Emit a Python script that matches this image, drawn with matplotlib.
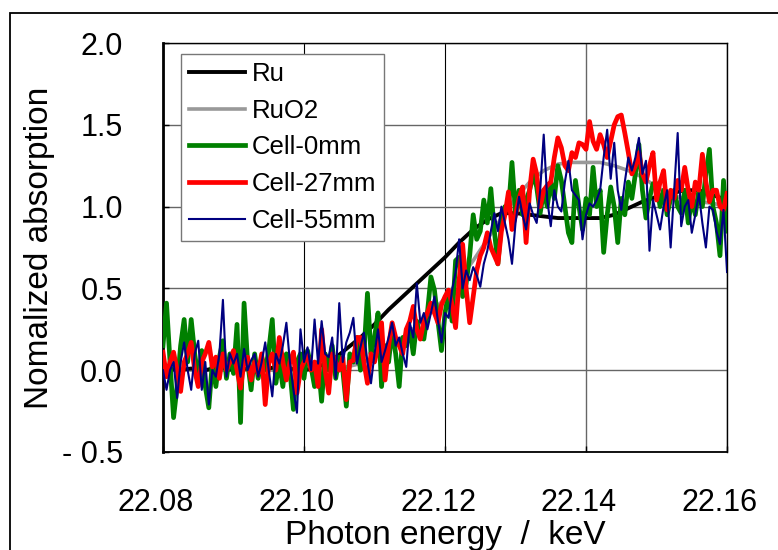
import numpy as np
import matplotlib
matplotlib.use("Agg")
import matplotlib.pyplot as plt
from matplotlib.patches import Rectangle
from matplotlib.transforms import ScaledTranslation

plt.rcParams['font.family'] = ['Liberation Sans', 'DejaVu Sans']

# energy grids (keV)
e_fine = np.round(np.arange(161) * 0.0005 + 22.080, 4)
e_coarse = np.round(np.arange(41) * 0.002 + 22.080, 3)

ru = [0.02, 0.0, 0.01, 0.0, 0.02, 0.0, 0.01, 0.0, 0.02, 0.01,
      0.0, 0.02, 0.06, 0.13, 0.2, 0.28, 0.37, 0.45, 0.53, 0.61,
      0.69, 0.78, 0.86, 0.92, 0.96, 0.96, 0.95, 0.94, 0.93, 0.93,
      0.93, 0.93, 0.95, 0.99, 1.03, 1.06, 1.08, 1.1, 1.1, 1.07,
      1.04]

ruo2 = [0.0, 0.0, 0.0, 0.0, 0.0, 0.0, 0.0, 0.0, 0.0, 0.0,
        0.0, 0.0, 0.01, 0.02, 0.04, 0.08, 0.14, 0.2, 0.27, 0.35,
        0.44, 0.55, 0.67, 0.8, 0.93, 1.05, 1.15, 1.22, 1.26, 1.27,
        1.27, 1.27, 1.25, 1.22, 1.18, 1.12, 1.07, 1.05, 1.03, 1.02,
        1.0]

cell_0 = [0.15, 0.41, 0.05, -0.29, -0.1, 0.15, 0.31, 0.05, 0.31, 0.1,
          -0.05, 0.12, -0.1, -0.23, 0.05, -0.1, 0.08, 0.18, -0.05, 0.1,
          -0.02, 0.28, -0.32, 0.41, 0.05, -0.12, 0.1, -0.05, 0.08, 0.0,
          0.12, 0.31, -0.08, 0.05, -0.1, 0.1, 0.0, -0.24, 0.05, 0.1,
          -0.05, 0.12, 0.02, -0.1, 0.05, -0.19, 0.1, 0.0, 0.15, -0.05,
          0.08, 0.0, -0.22, 0.1, 0.05, 0.2, 0.0, 0.1, 0.47, 0.1,
          0.2, 0.35, -0.1, 0.15, 0.05, 0.25, 0.1, -0.1, 0.2, 0.15,
          0.25, 0.1, 0.3, 0.2, 0.19, 0.35, 0.57, 0.49, 0.3, 0.12,
          0.35, 0.47, 0.3, 0.67, 0.69, 0.45, 0.53, 0.7, 0.95, 0.8,
          0.85, 1.04, 0.9, 1.11, 0.85, 0.65, 0.9, 1.0, 0.98, 1.27,
          0.96, 1.1, 0.95, 1.04, 1.1, 1.2, 1.12, 0.96, 1.1, 1.0,
          1.15, 1.05, 1.25, 1.16, 1.0, 0.84, 0.78, 1.16, 1.0, 0.86,
          1.05, 0.95, 1.24, 1.0, 1.1, 0.72, 0.95, 1.12, 1.0, 0.78,
          1.05, 0.95, 1.15, 1.05, 1.2, 1.38, 1.1, 0.93, 1.05, 1.14,
          1.14, 1.0, 1.1, 0.95, 1.05, 1.1, 1.0, 0.96, 1.1, 0.9,
          1.05, 0.95, 1.1, 1.0, 1.2, 1.35, 1.0, 0.9, 0.7, 1.16,
          0.85]

cell_27 = [0.11, -0.04, 0.05, 0.11, 0.0, -0.13, 0.05, 0.1, 0.17, 0.0,
           -0.1, 0.05, 0.1, 0.17, 0.02, 0.08, -0.05, 0.1, 0.0, 0.05,
           0.12, 0.0, -0.11, 0.05, 0.08, -0.06, 0.05, -0.02, 0.1, -0.21,
           0.04, 0.1, 0.0, 0.2, 0.05, -0.06, 0.05, 0.11, -0.14, 0.0,
           0.05, 0.09, 0.0, 0.05, -0.1, 0.25, 0.0, -0.14, 0.1, 0.05,
           0.0, 0.08, -0.18, 0.05, 0.06, 0.2, 0.2, 0.05, -0.08, 0.1,
           0.05, 0.15, 0.29, -0.06, 0.15, 0.29, 0.2, 0.15, 0.1, 0.25,
           0.3, 0.39, 0.25, 0.19, 0.3, 0.35, 0.41, 0.35, 0.29, 0.4,
           0.45, 0.49, 0.4, 0.26, 0.55, 0.77, 0.5, 0.29, 0.45, 0.61,
           0.7, 0.75, 0.84, 0.75, 0.7, 0.65, 0.85, 0.95, 1.09, 0.86,
           0.95, 1.05, 1.12, 0.78, 1.1, 1.29, 1.2, 1.0, 1.1, 1.13,
           1.15, 1.3, 1.42, 1.36, 1.25, 1.22, 1.33, 1.3, 1.39, 1.38,
           1.35, 1.52, 1.4, 1.35, 1.44, 1.38, 1.3, 1.4, 1.5, 1.55,
           1.56, 1.45, 1.33, 1.2, 1.25, 1.33, 1.2, 1.15, 1.25, 1.33,
           1.04, 1.15, 1.22, 0.98, 1.1, 1.05, 1.16, 1.1, 1.24, 1.1,
           1.0, 1.15, 1.1, 1.32, 1.15, 1.03, 1.1, 1.1, 1.0, 0.98,
           1.08]

cell_55 = [0.0, -0.12, 0.0, 0.05, -0.17, 0.05, 0.17, 0.0, -0.12, 0.1,
           0.18, -0.12, 0.05, -0.21, 0.0, -0.04, 0.1, 0.43, -0.04, 0.1,
           0.04, 0.1, -0.04, 0.13, 0.0, 0.06, 0.1, -0.04, 0.05, 0.17,
           0.0, -0.16, 0.1, 0.04, 0.15, 0.29, 0.05, -0.12, -0.26, 0.25,
           0.05, 0.14, 0.0, 0.31, 0.04, 0.3, 0.1, 0.08, 0.2, -0.05,
           0.41, 0.05, 0.17, 0.23, 0.32, 0.04, 0.14, 0.23, 0.05, -0.08,
           0.1, 0.25, 0.05, 0.12, 0.2, 0.29, 0.15, 0.2, 0.1, 0.02,
           0.29, 0.2, 0.53, 0.29, 0.35, 0.25, 0.35, 0.45, 0.3, 0.17,
           0.35, 0.32, 0.49, 0.6, 0.8, 0.5, 0.61, 0.55, 0.63, 0.58,
           0.51, 0.65, 0.73, 0.85, 0.96, 0.85, 1.0, 0.9, 0.8, 0.65,
           0.9, 1.06, 0.95, 0.86, 1.02, 0.95, 0.9, 1.1, 1.44, 1.04,
           0.88, 1.1, 1.0, 0.97, 1.15, 1.28, 1.1, 1.07, 1.04, 0.8,
           0.95, 1.02, 1.0, 1.04, 1.1, 1.3, 1.47, 1.17, 1.39, 1.1,
           0.98, 1.15, 1.3, 1.22, 1.3, 1.42, 1.2, 1.28, 0.73, 1.04,
           0.95, 0.86, 1.0, 1.1, 0.75, 1.1, 1.45, 0.88, 1.0, 1.04,
           0.84, 0.95, 1.08, 0.9, 0.75, 1.0, 0.98, 0.85, 0.77, 0.98,
           0.6]

x_ticks = [22.08, 22.10, 22.12, 22.14, 22.16]
x_labels = ['22.08', '22.10', '22.12', '22.14', '22.16']
y_ticks = [-0.5, 0.0, 0.5, 1.0, 1.5, 2.0]
y_labels = ['- 0.5', '0.0', '0.5', '1.0', '1.5', '2.0']

fig = plt.figure(figsize=(7.78, 5.5), dpi=100)
ax = fig.add_axes([0.2095, 0.1782, 0.725, 0.7436])

# outer frame (runs off the right and bottom edges)
fig.patches.append(Rectangle((10 / 778, -0.05), 1.1, 1 - 13 / 550 + 0.05,
                             transform=fig.transFigure, fill=False,
                             edgecolor='black', lw=1.3, zorder=0))

ax.plot(e_coarse, ru, color='black', lw=2.8, label='Ru', zorder=3)
ax.plot(e_coarse, ruo2, color='#999999', lw=2.6, label='RuO2', zorder=2)
ax.plot(e_fine, cell_0, color='#008000', lw=3.4, label='Cell-0mm', zorder=4)
ax.plot(e_fine, cell_27, color='#ff0000', lw=3.4, label='Cell-27mm', zorder=5)
ax.plot(e_fine, cell_55, color='#000080', lw=1.5, label='Cell-55mm', zorder=6)

ax.set_xlim(22.08, 22.16)
ax.set_ylim(-0.5, 2.0)
ax.set_xticks(x_ticks)
ax.set_xticklabels(x_labels, fontsize=22)
ax.set_yticks(y_ticks)
ax.set_yticklabels(y_labels, fontsize=22)
ax.tick_params(direction='in', length=4, width=1, colors='black')
ax.tick_params(axis='x', pad=26)
ax.tick_params(axis='y', pad=29)
for lab in ax.get_xticklabels():
    lab.set_transform(lab.get_transform() + ScaledTranslation(-7 / 100, 0, fig.dpi_scale_trans))

ax.grid(True, color='#666666', lw=1.0)
for i, gl in enumerate(ax.get_xgridlines()):
    if x_ticks[i] in (22.10, 22.12):
        gl.set_color('black')
        gl.set_linewidth(0.8)

ax.spines['left'].set_linewidth(2.0)
ax.spines['bottom'].set_linewidth(1.3)
ax.spines['top'].set_linewidth(1.0)
ax.spines['right'].set_linewidth(1.0)

ax.set_xlabel('Photon energy  /  keV', fontsize=24, labelpad=1.5)
ax.set_ylabel('Nomalized absorption', fontsize=24, labelpad=5)

leg = ax.legend(loc='upper left', bbox_to_anchor=(0.032, 0.973), borderaxespad=0,
                fontsize=18.5, handlelength=2.2, handletextpad=0.25,
                labelspacing=0.5, borderpad=0.3, fancybox=False, framealpha=1)
leg.get_frame().set_edgecolor('#777777')
leg.get_frame().set_linewidth(1.0)

fig.savefig('out.png', dpi=100)
